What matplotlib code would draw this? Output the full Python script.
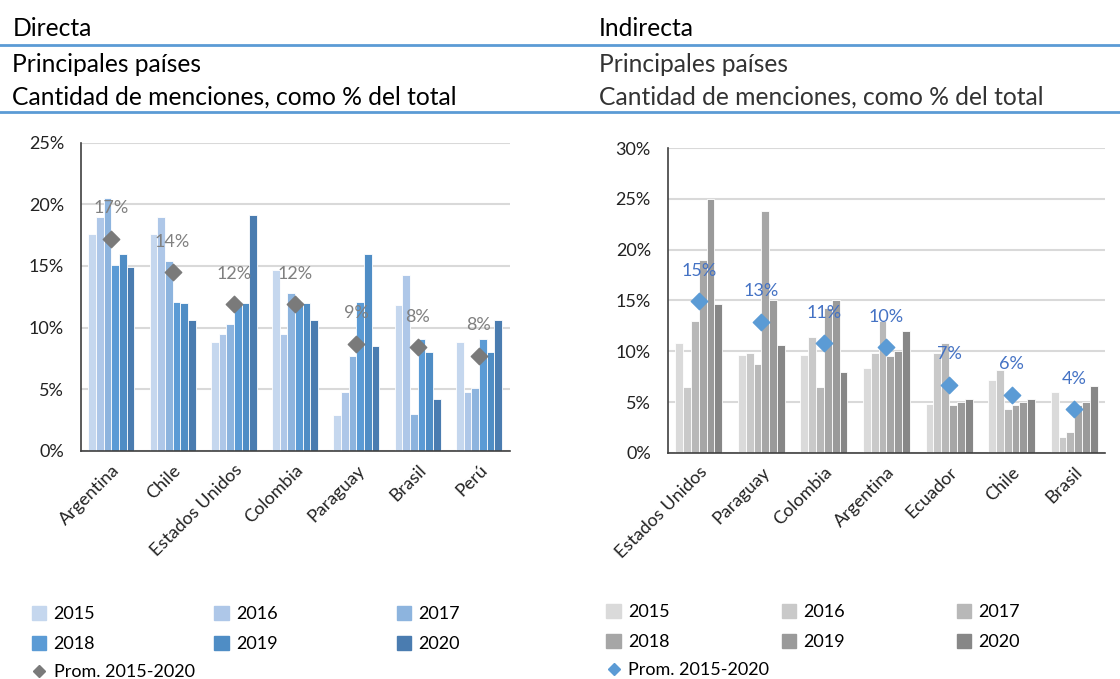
import numpy as np
import matplotlib.pyplot as plt
from matplotlib.lines import Line2D
from matplotlib.patches import Patch
from matplotlib.ticker import PercentFormatter

plt.rcParams['font.family'] = ['Lato', 'DejaVu Sans']

years = ['2015', '2016', '2017', '2018', '2019', '2020']

# Directa
paises_dir = ['Argentina', 'Chile', 'Estados Unidos', 'Colombia', 'Paraguay', 'Brasil', 'Perú']
dir_vals = {
    '2015': [17.6, 17.6, 8.8, 14.7, 2.9, 11.8, 8.8],
    '2016': [19.0, 19.0, 9.5, 9.5, 4.8, 14.3, 4.8],
    '2017': [20.5, 15.4, 10.3, 12.8, 7.7, 3.0, 5.1],
    '2018': [15.1, 12.1, 12.1, 12.1, 12.1, 9.1, 9.1],
    '2019': [16.0, 12.0, 12.0, 12.0, 16.0, 8.0, 8.0],
    '2020': [14.9, 10.6, 19.1, 10.6, 8.5, 4.2, 10.6],
}
dir_prom = [17.2, 14.5, 11.9, 11.9, 8.7, 8.4, 7.7]

# Indirecta
paises_ind = ['Estados Unidos', 'Paraguay', 'Colombia', 'Argentina', 'Ecuador', 'Chile', 'Brasil']
ind_vals = {
    '2015': [10.8, 9.6, 9.6, 8.4, 4.8, 7.2, 6.0],
    '2016': [6.5, 9.8, 11.4, 9.8, 9.8, 8.2, 1.6],
    '2017': [13.0, 8.7, 6.5, 13.0, 10.8, 4.3, 2.1],
    '2018': [19.0, 23.8, 14.3, 9.5, 4.7, 4.7, 4.7],
    '2019': [25.0, 15.0, 15.0, 10.0, 5.0, 5.0, 5.0],
    '2020': [14.7, 10.6, 8.0, 12.0, 5.3, 5.3, 6.6],
}
ind_prom = [14.9, 12.9, 10.8, 10.4, 6.7, 5.7, 4.3]

blues = ['#c5d7ee', '#aec7e8', '#8db4de', '#5b9bd5', '#4f8dc5', '#4a7cb0']
grays = ['#dadada', '#c9c9c9', '#b8b8b8', '#a6a6a6', '#9a9a9a', '#878787']


def draw(ax, cats, vals, prom, colors, mk_color, lbl_color, ymax):
    x = np.arange(len(cats))
    w = 0.125
    for i, y in enumerate(years):
        ax.bar(x + (i - 2.5) * w, np.array(vals[y]) / 100, w, color=colors[i],
               edgecolor='white', linewidth=0.6, zorder=2)
    ax.scatter(x, np.array(prom) / 100, marker='D', s=70, color=mk_color, zorder=3)
    for xi, p in zip(x, prom):
        ax.annotate(f'{round(p):.0f}%', (xi, p / 100), xytext=(0, 22), textcoords='offset points',
                    ha='center', va='center', fontsize=13, color=lbl_color, zorder=4)
    ax.set_xlim(-0.5, len(cats) - 0.5)
    ax.set_ylim(0, ymax)
    ax.set_yticks(np.arange(0, ymax + 0.001, 0.05))
    ax.yaxis.set_major_formatter(PercentFormatter(1.0, decimals=0))
    ax.set_xticks(x)
    ax.set_xticklabels(cats, rotation=45, ha='right', rotation_mode='anchor')
    ax.tick_params(length=0, labelsize=13, colors='#222222')
    ax.tick_params(axis='y', pad=12)
    ax.tick_params(axis='x', pad=8)
    ax.grid(axis='y', color='#d9d9d9', linewidth=1.5, zorder=0)
    ax.set_axisbelow(True)
    for s in ['top', 'right']:
        ax.spines[s].set_visible(False)
    for s in ['left', 'bottom']:
        ax.spines[s].set_color('#404040')
        ax.spines[s].set_linewidth(1.2)


fig = plt.figure(figsize=(11.2, 6.79), dpi=100)

ax1 = fig.add_axes([0.072, 0.336, 0.383, 0.454])
draw(ax1, paises_dir, dir_vals, dir_prom, blues, '#7a7a7a', '#808080', 0.25)

ax2 = fig.add_axes([0.596, 0.333, 0.391, 0.449])
draw(ax2, paises_ind, ind_vals, ind_prom, grays, '#5b9bd5', '#4472c4', 0.30)

# headers
hs = 17.7
fig.text(0.011, 1 - 28 / 679, 'Directa', fontsize=hs, va='center', color='black')
fig.text(0.011, 1 - 64 / 679, 'Principales países', fontsize=hs, va='center', color='black')
fig.text(0.011, 1 - 97 / 679, 'Cantidad de menciones, como % del total', fontsize=hs, va='center', color='black')
fig.text(0.535, 1 - 28 / 679, 'Indirecta', fontsize=hs, va='center', color='black')
fig.text(0.535, 1 - 64 / 679, 'Principales países', fontsize=hs, va='center', color='#333333')
fig.text(0.535, 1 - 97 / 679, 'Cantidad de menciones, como % del total', fontsize=hs, va='center',
         color='#333333')
for yy in [45, 112]:
    fig.add_artist(Line2D([0, 1], [1 - yy / 679] * 2, color='#5b9bd5', linewidth=2))


def legend(colors, mk_color, x0, y0, colsp):
    h = [Patch(color=c) for c in colors]
    order = [0, 3, 1, 4, 2, 5]  # row-wise reading in a column-filled legend
    fig.legend([h[i] for i in order], [years[i] for i in order], ncol=3, loc='upper left',
               bbox_to_anchor=(x0, y0), frameon=False,
               fontsize=13, handlelength=0.8, handleheight=0.8, handletextpad=0.4,
               columnspacing=colsp, labelspacing=0.75, borderaxespad=0)
    prom_h = Line2D([], [], marker='D', color=mk_color, linestyle='none', markersize=6)
    fig.legend([prom_h], ['Prom. 2015-2020'], loc='upper left', bbox_to_anchor=(x0, y0 - 58 / 679),
               frameon=False, fontsize=13, handlelength=0.8, handletextpad=0.4, borderaxespad=0)


legend(blues, '#7a7a7a', 0.022, 1 - 599 / 679, 6.6)
legend(grays, '#5b9bd5', 0.535, 1 - 597 / 679, 6.2)

fig.savefig('out.png', dpi=100)
